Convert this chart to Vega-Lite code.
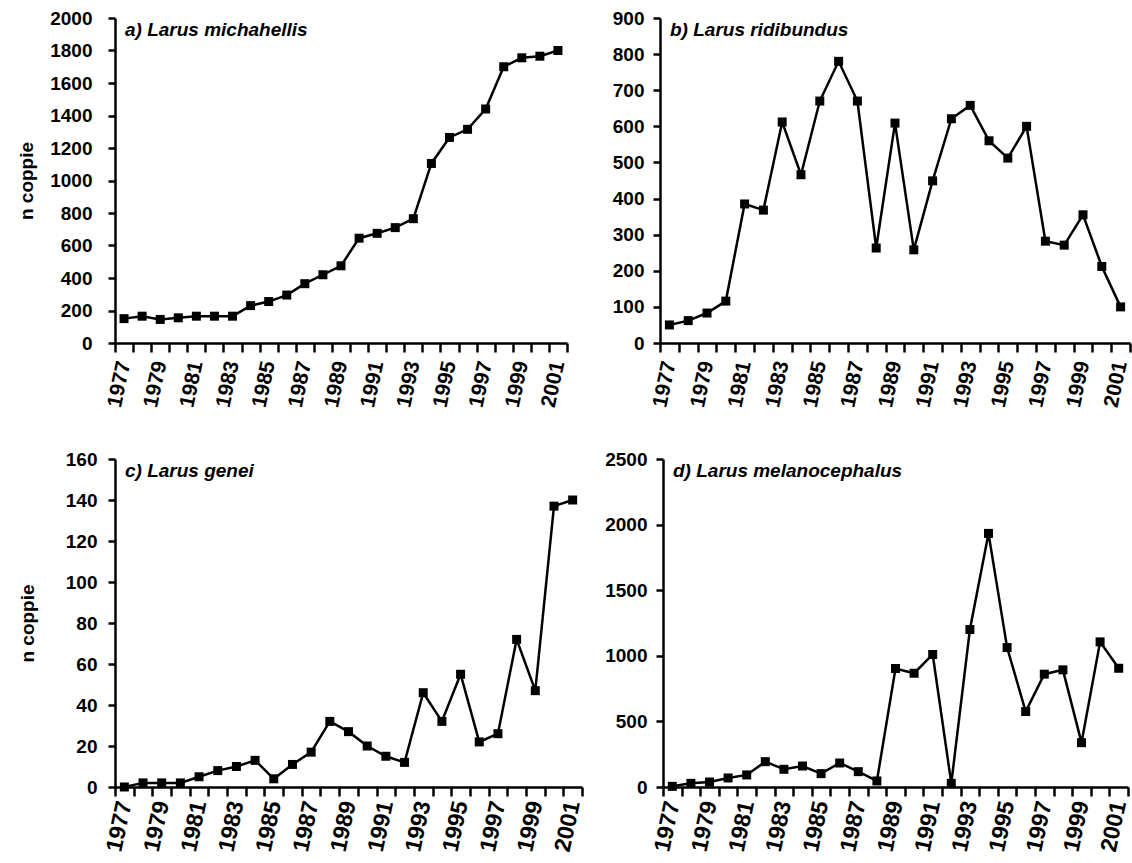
{
  "$schema": "https://vega.github.io/schema/vega-lite/v6.json",
  "background": "white",
  "padding": {"left": 17, "top": 9, "right": 0, "bottom": 0},
  "datasets": {
    "a": [{"year":1977,"n":150},{"year":1978,"n":165},{"year":1979,"n":145},{"year":1980,"n":155},{"year":1981,"n":165},{"year":1982,"n":165},{"year":1983,"n":165},{"year":1984,"n":230},{"year":1985,"n":255},{"year":1986,"n":295},{"year":1987,"n":365},{"year":1988,"n":420},{"year":1989,"n":475},{"year":1990,"n":645},{"year":1991,"n":675},{"year":1992,"n":710},{"year":1993,"n":765},{"year":1994,"n":1105},{"year":1995,"n":1265},{"year":1996,"n":1315},{"year":1997,"n":1440},{"year":1998,"n":1700},{"year":1999,"n":1755},{"year":2000,"n":1765},{"year":2001,"n":1800}],
    "b": [{"year":1977,"n":50},{"year":1978,"n":62},{"year":1979,"n":83},{"year":1980,"n":116},{"year":1981,"n":385},{"year":1982,"n":368},{"year":1983,"n":612},{"year":1984,"n":466},{"year":1985,"n":670},{"year":1986,"n":780},{"year":1987,"n":670},{"year":1988,"n":263},{"year":1989,"n":609},{"year":1990,"n":258},{"year":1991,"n":449},{"year":1992,"n":621},{"year":1993,"n":658},{"year":1994,"n":560},{"year":1995,"n":512},{"year":1996,"n":600},{"year":1997,"n":282},{"year":1998,"n":271},{"year":1999,"n":355},{"year":2000,"n":212},{"year":2001,"n":100}],
    "c": [{"year":1977,"n":0},{"year":1978,"n":2},{"year":1979,"n":2},{"year":1980,"n":2},{"year":1981,"n":5},{"year":1982,"n":8},{"year":1983,"n":10},{"year":1984,"n":13},{"year":1985,"n":4},{"year":1986,"n":11},{"year":1987,"n":17},{"year":1988,"n":32},{"year":1989,"n":27},{"year":1990,"n":20},{"year":1991,"n":15},{"year":1992,"n":12},{"year":1993,"n":46},{"year":1994,"n":32},{"year":1995,"n":55},{"year":1996,"n":22},{"year":1997,"n":26},{"year":1998,"n":72},{"year":1999,"n":47},{"year":2000,"n":137},{"year":2001,"n":140}],
    "d": [{"year":1977,"n":5},{"year":1978,"n":28},{"year":1979,"n":38},{"year":1980,"n":69},{"year":1981,"n":92},{"year":1982,"n":193},{"year":1983,"n":135},{"year":1984,"n":160},{"year":1985,"n":102},{"year":1986,"n":183},{"year":1987,"n":117},{"year":1988,"n":46},{"year":1989,"n":903},{"year":1990,"n":867},{"year":1991,"n":1010},{"year":1992,"n":28},{"year":1993,"n":1200},{"year":1994,"n":1933},{"year":1995,"n":1063},{"year":1996,"n":575},{"year":1997,"n":860},{"year":1998,"n":893},{"year":1999,"n":338},{"year":2000,"n":1106},{"year":2001,"n":905}]
  },
  "vconcat": [
    {
      "hconcat": [
        {
          "width": 452, "height": 325,
          "data": {"name": "a"},
          "title": {"text": "a) Larus michahellis", "offset": -31, "dx": 10},
          "encoding": {"y": {"field": "n", "type": "quantitative", "scale": {"domain": [0, 2000], "nice": false}, "axis": {"values": [0,200,400,600,800,1000,1200,1400,1600,1800,2000], "format": "d", "title": "n coppie", "labelPadding": 16, "titlePadding": 13}}},
          "layer": [
            {"mark": {"type": "line", "color": "black", "strokeWidth": 2.5},
             "encoding": {"x": {"field": "year", "type": "quantitative", "scale": {"domain": [1976.5, 2001.5], "nice": false, "zero": false}, "axis": {"orient": "bottom", "values": [1976.5,1977.5,1978.5,1979.5,1980.5,1981.5,1982.5,1983.5,1984.5,1985.5,1986.5,1987.5,1988.5,1989.5,1990.5,1991.5,1992.5,1993.5,1994.5,1995.5,1996.5,1997.5,1998.5,1999.5,2000.5,2001.5], "labels": false, "ticks": true, "tickSize": 9, "domain": true, "title": null}}}},
            {"mark": {"type": "square", "color": "black", "size": 81, "opacity": 1},
             "encoding": {"x": {"field": "year", "type": "quantitative", "axis": {"orient": "bottom", "values": [1977,1979,1981,1983,1985,1987,1989,1991,1993,1995,1997,1999,2001], "ticks": false, "tickSize": 0, "domain": false, "format": "d", "title": null, "labelFontSize": 21, "labelAngle": -78, "labelAlign": "right", "labelBaseline": "middle", "labelPadding": 18, "labelOverlap": false, "labelFlush": false, "labelBound": false}}}}
          ],
          "resolve": {"axis": {"x": "independent"}}
        },
        {
          "width": 470, "height": 325,
          "data": {"name": "b"},
          "title": {"text": "b) Larus ridibundus", "offset": -31, "dx": 10},
          "encoding": {"y": {"field": "n", "type": "quantitative", "scale": {"domain": [0, 900], "nice": false}, "axis": {"values": [0,100,200,300,400,500,600,700,800,900], "format": "d", "title": null, "labelPadding": 9}}},
          "layer": [
            {"mark": {"type": "line", "color": "black", "strokeWidth": 2.5},
             "encoding": {"x": {"field": "year", "type": "quantitative", "scale": {"domain": [1976.5, 2001.5], "nice": false, "zero": false}, "axis": {"orient": "bottom", "values": [1976.5,1977.5,1978.5,1979.5,1980.5,1981.5,1982.5,1983.5,1984.5,1985.5,1986.5,1987.5,1988.5,1989.5,1990.5,1991.5,1992.5,1993.5,1994.5,1995.5,1996.5,1997.5,1998.5,1999.5,2000.5,2001.5], "labels": false, "ticks": true, "tickSize": 9, "domain": true, "title": null}}}},
            {"mark": {"type": "square", "color": "black", "size": 81, "opacity": 1},
             "encoding": {"x": {"field": "year", "type": "quantitative", "axis": {"orient": "bottom", "values": [1977,1979,1981,1983,1985,1987,1989,1991,1993,1995,1997,1999,2001], "ticks": false, "tickSize": 0, "domain": false, "format": "d", "title": null, "labelFontSize": 21, "labelAngle": -78, "labelAlign": "right", "labelBaseline": "middle", "labelPadding": 18, "labelOverlap": false, "labelFlush": false, "labelBound": false}}}}
          ],
          "resolve": {"axis": {"x": "independent"}}
        }
      ],
      "spacing": 93,
      "bounds": "flush"
    },
    {
      "hconcat": [
        {
          "width": 467, "height": 328,
          "data": {"name": "c"},
          "title": {"text": "c) Larus genei", "offset": -31, "dx": 10},
          "encoding": {"y": {"field": "n", "type": "quantitative", "scale": {"domain": [0, 160], "nice": false}, "axis": {"values": [0,20,40,60,80,100,120,140,160], "format": "d", "title": "n coppie", "labelPadding": 11, "titlePadding": 28}}},
          "layer": [
            {"mark": {"type": "line", "color": "black", "strokeWidth": 2.5},
             "encoding": {"x": {"field": "year", "type": "quantitative", "scale": {"domain": [1976.5, 2001.5], "nice": false, "zero": false}, "axis": {"orient": "bottom", "values": [1976.5,1977.5,1978.5,1979.5,1980.5,1981.5,1982.5,1983.5,1984.5,1985.5,1986.5,1987.5,1988.5,1989.5,1990.5,1991.5,1992.5,1993.5,1994.5,1995.5,1996.5,1997.5,1998.5,1999.5,2000.5,2001.5], "labels": false, "ticks": true, "tickSize": 9, "domain": true, "title": null}}}},
            {"mark": {"type": "square", "color": "black", "size": 81, "opacity": 1},
             "encoding": {"x": {"field": "year", "type": "quantitative", "axis": {"orient": "bottom", "values": [1977,1979,1981,1983,1985,1987,1989,1991,1993,1995,1997,1999,2001], "ticks": false, "tickSize": 0, "domain": false, "format": "d", "title": null, "labelFontSize": 23, "labelAngle": -78, "labelAlign": "right", "labelBaseline": "middle", "labelPadding": 14, "labelOverlap": false, "labelFlush": false, "labelBound": false}}}}
          ],
          "resolve": {"axis": {"x": "independent"}}
        },
        {
          "width": 465, "height": 328,
          "data": {"name": "d"},
          "title": {"text": "d) Larus melanocephalus", "offset": -31, "dx": 10},
          "encoding": {"y": {"field": "n", "type": "quantitative", "scale": {"domain": [0, 2500], "nice": false}, "axis": {"values": [0,500,1000,1500,2000,2500], "format": "d", "title": null, "labelPadding": 9}}},
          "layer": [
            {"mark": {"type": "line", "color": "black", "strokeWidth": 2.5},
             "encoding": {"x": {"field": "year", "type": "quantitative", "scale": {"domain": [1976.5, 2001.5], "nice": false, "zero": false}, "axis": {"orient": "bottom", "values": [1976.5,1977.5,1978.5,1979.5,1980.5,1981.5,1982.5,1983.5,1984.5,1985.5,1986.5,1987.5,1988.5,1989.5,1990.5,1991.5,1992.5,1993.5,1994.5,1995.5,1996.5,1997.5,1998.5,1999.5,2000.5,2001.5], "labels": false, "ticks": true, "tickSize": 9, "domain": true, "title": null}}}},
            {"mark": {"type": "square", "color": "black", "size": 81, "opacity": 1},
             "encoding": {"x": {"field": "year", "type": "quantitative", "axis": {"orient": "bottom", "values": [1977,1979,1981,1983,1985,1987,1989,1991,1993,1995,1997,1999,2001], "ticks": false, "tickSize": 0, "domain": false, "format": "d", "title": null, "labelFontSize": 23, "labelAngle": -78, "labelAlign": "right", "labelBaseline": "middle", "labelPadding": 14, "labelOverlap": false, "labelFlush": false, "labelBound": false}}}}
          ],
          "resolve": {"axis": {"x": "independent"}}
        }
      ],
      "spacing": 81,
      "bounds": "flush"
    }
  ],
  "spacing": 41,
  "config": {
    "view": {"stroke": null},
    "axis": {"labelFont": "Liberation Sans", "labelFontWeight": "bold", "labelFontSize": 19, "labelColor": "black", "titleFont": "Liberation Sans", "titleFontWeight": "bold", "titleFontSize": 19, "titleColor": "black", "domainColor": "black", "tickColor": "black", "domainWidth": 2.5, "tickWidth": 2.5, "grid": false, "tickSize": 7, "labelPadding": 13},
    "title": {"font": "Liberation Sans", "fontSize": 19, "fontWeight": "bold", "fontStyle": "italic", "color": "black", "anchor": "start", "frame": "group"}
  }
}
